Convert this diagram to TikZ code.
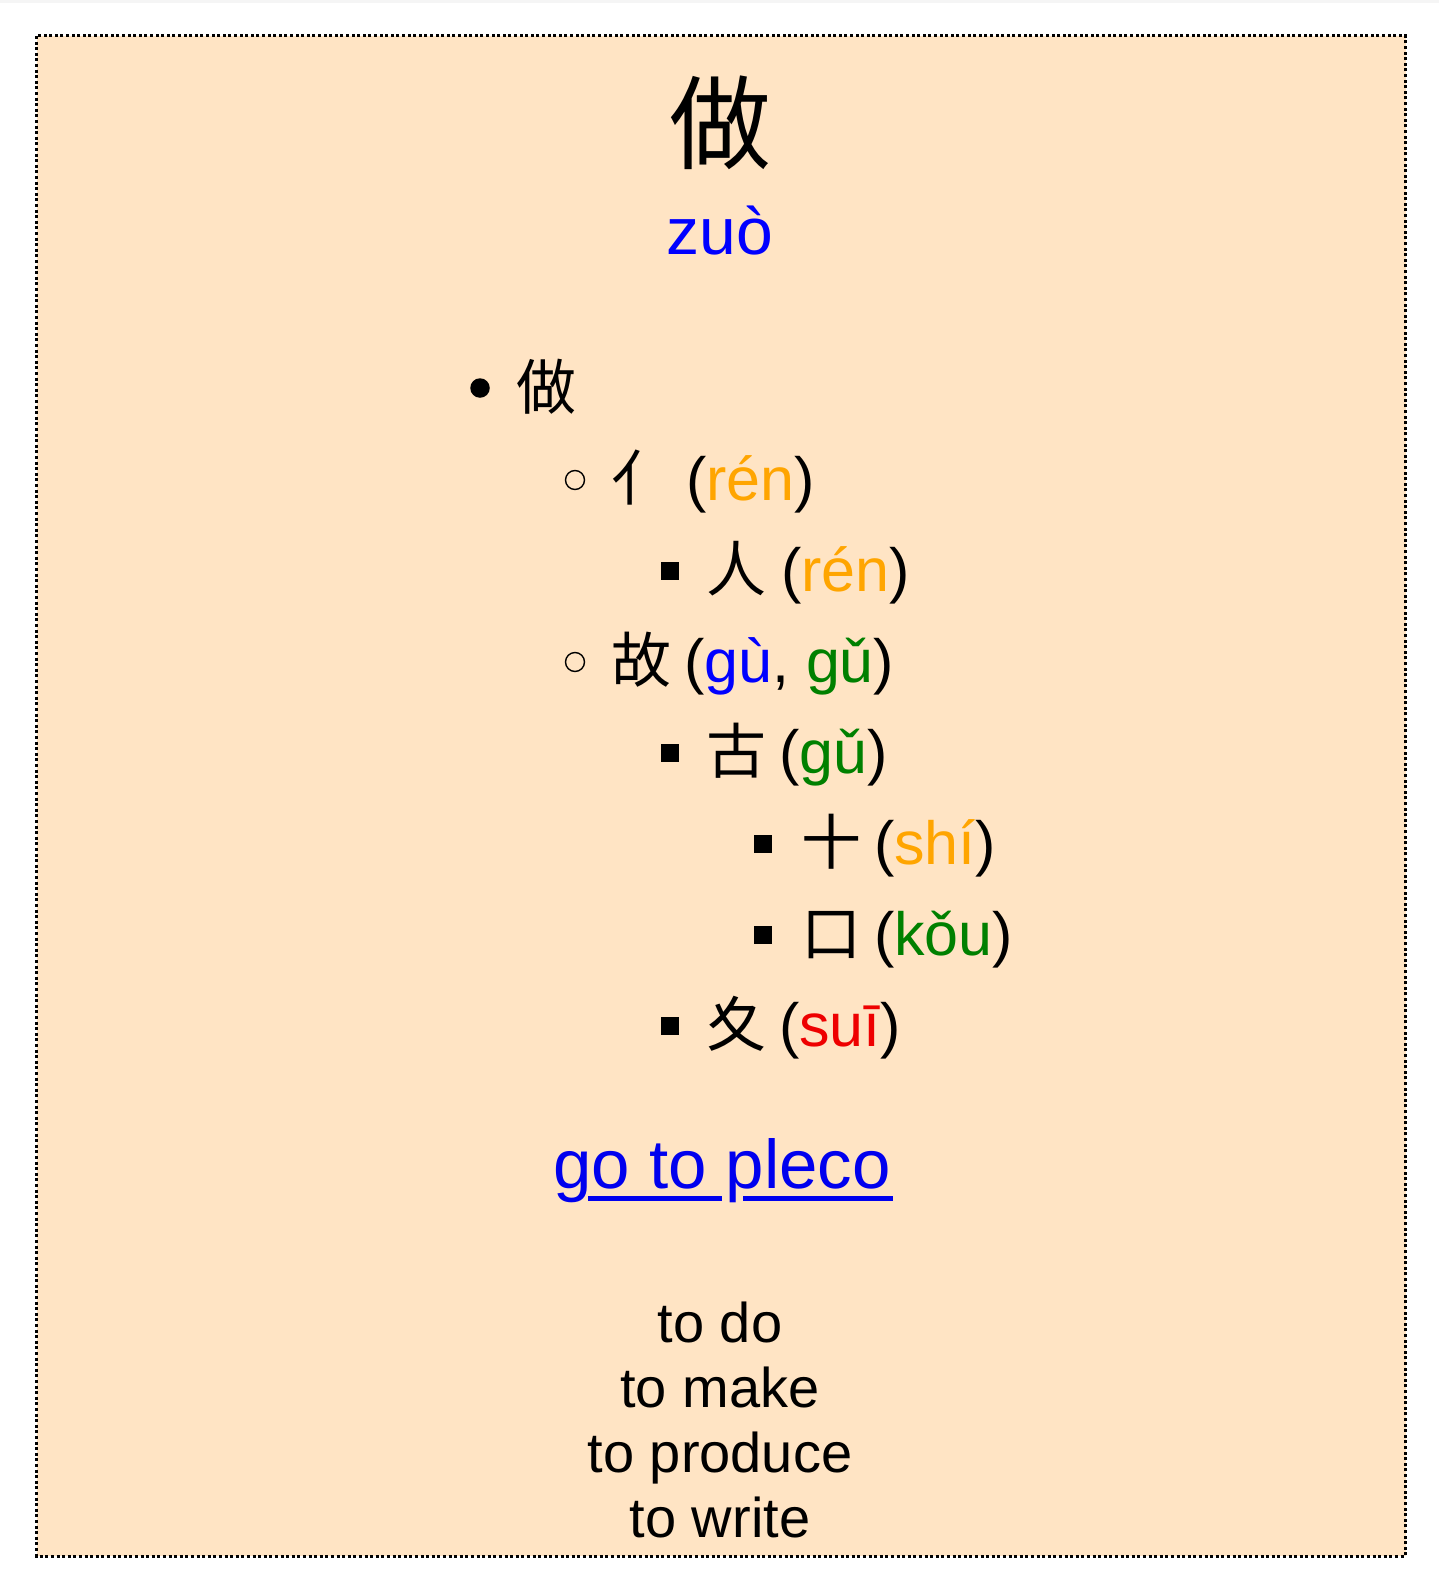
\documentclass[tikz,border=0pt]{standalone}
\usepackage{fontspec}
\setmainfont{Liberation Sans}
\newfontfamily\cjk{Noto Sans CJK SC}
\definecolor{bisq}{HTML}{FFE4C4}
\definecolor{pyblue}{HTML}{0000FF}
\definecolor{pyorange}{HTML}{FFA500}
\definecolor{pygreen}{HTML}{008000}
\definecolor{pyred}{HTML}{EE0000}
\definecolor{linkblue}{HTML}{0000EE}
\begin{document}
\begin{tikzpicture}[x=1pt,y=-1pt,
  txt/.style={inner sep=0pt, outer sep=0pt, anchor=base west, font=\fontsize{61}{72}\selectfont},
  hanzi/.style={inner sep=0pt, outer sep=0pt, anchor=base west, font=\cjk\fontsize{60}{72}\selectfont},
  deftxt/.style={inner sep=0pt, outer sep=0pt, anchor=base, font=\fontsize{56}{65}\selectfont},
  disc/.style={circle, fill=black, inner sep=0pt, minimum size=19.5pt},
  ring/.style={circle, draw=black, line width=1.4pt, inner sep=0pt, minimum size=19pt},
  sq/.style={rectangle, fill=black, inner sep=0pt, minimum size=18.5pt}
]
\useasboundingbox (0,0) rectangle (1439,1587);
\fill[white] (0,0) rectangle (1439,1587);
\fill[black!4] (0,0) rectangle (1439,3);
\draw[fill=bisq, line width=3pt, dash pattern=on 3pt off 2.6pt] (36.5,36) rectangle (1405.5,1556);

% headword
\node[anchor=base, inner sep=0pt, font=\cjk\fontsize{102}{110}\selectfont] (head) at (720,161) {做};
\node[anchor=base, inner sep=0pt, font=\fontsize{66}{76}\selectfont, text=pyblue] (py) at (720,254) {zuò};

% row 1
\node[disc] (b1) at (480,388) {};
\node[hanzi] (c1) at (516,409) {做};
% row 2
\node[ring] (b2) at (575,480) {};
\node[hanzi] (c2) at (611,500) {亻};
\node[txt] (p2) at (686,500) {(\textcolor{pyorange}{rén})};
% row 3
\node[sq] (b3) at (670,571) {};
\node[hanzi] (c3) at (706,591) {人};
\node[txt] (p3) at (781,591) {(\textcolor{pyorange}{rén})};
% row 4
\node[ring] (b4) at (575,662) {};
\node[hanzi] (c4) at (611,682) {故};
\node[txt] (p4) at (684,682) {(\textcolor{pyblue}{gù}, \textcolor{pygreen}{gǔ})};
% row 5
\node[sq] (b5) at (670,753) {};
\node[hanzi] (c5) at (706,773) {古};
\node[txt] (p5) at (779,773) {(\textcolor{pygreen}{gǔ})};
% row 6
\node[sq] (b6) at (763,844) {};
\node[hanzi] (c6) at (801,864) {十};
\node[txt] (p6) at (874,864) {(\textcolor{pyorange}{shí})};
% row 7
\node[sq] (b7) at (763,935) {};
\node[hanzi] (c7) at (801,955) {口};
\node[txt] (p7) at (874,955) {(\textcolor{pygreen}{kǒu})};
% row 8
\node[sq] (b8) at (670,1026) {};
\node[hanzi] (c8) at (706,1046) {夊};
\node[txt] (p8) at (779,1046) {(\textcolor{pyred}{suī})};

% link
\node[anchor=base, inner sep=0pt, font=\fontsize{69}{80}\selectfont, text=linkblue] (link) at (722,1188) {go to pleco};
\draw[linkblue, line width=4.5pt] (588,1198.5) -- (722,1198.5) (743,1198.5) -- (893,1198.5);

% definitions
\node[deftxt] (d1) at (720,1342) {to do};
\node[deftxt] (d2) at (720,1407) {to make};
\node[deftxt] (d3) at (720,1472) {to produce};
\node[deftxt] (d4) at (720,1537) {to write};
\end{tikzpicture}
\end{document}
